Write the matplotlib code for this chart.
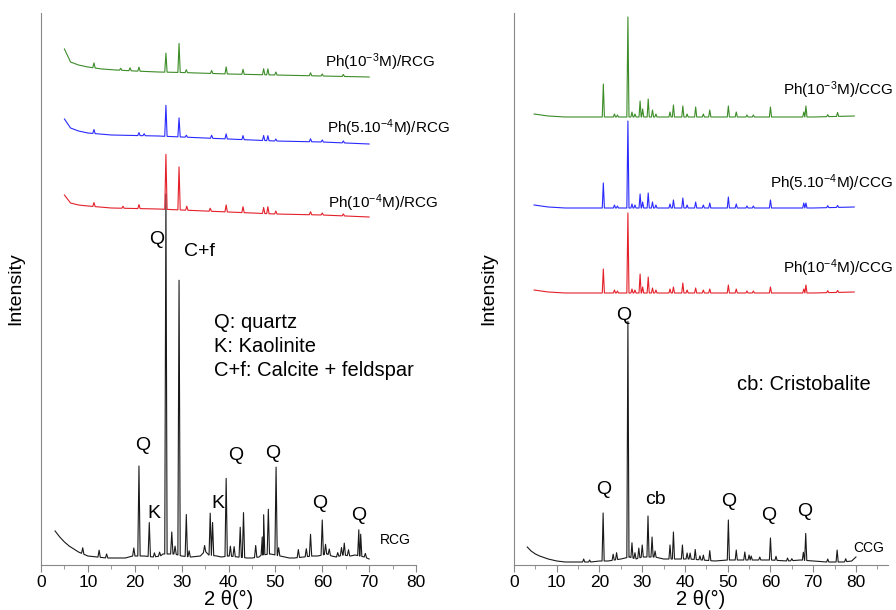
import numpy as np
import matplotlib
matplotlib.use("Agg")
import matplotlib.pyplot as plt
from matplotlib.ticker import MultipleLocator

plt.rcParams['font.family'] = ['Liberation Sans', 'DejaVu Sans']
plt.rcParams['mathtext.fontset'] = 'custom'
plt.rcParams['mathtext.rm'] = 'Liberation Sans'
plt.rcParams['mathtext.default'] = 'regular'

# ---------------- left panel (RCG) ----------------
# raw clay, black trace: background (2theta, intensity) and peaks (2theta, height)
rcg_bg_x = [3.0, 4, 5, 6, 7, 8, 9, 10, 12, 14, 16, 18, 19.5, 22, 24, 25.5, 26, 28.5, 30, 32, 34, 35, 35.8,
            37.5, 38.5, 40, 42, 44, 45, 46.5, 47, 49, 51, 53, 54, 56, 58, 59, 61, 62, 63, 64.5, 66, 67, 69, 70]
rcg_bg_y = [34, 28, 23, 19, 16, 13, 11, 9, 8, 7, 7, 7, 9, 9, 8, 9, 11, 11, 9, 8, 9, 14, 10,
            9, 8, 9, 8, 7, 7, 8, 10, 11, 9, 7, 7, 8, 9, 9, 11, 9, 8, 10, 9, 10, 8, 6]
rcg_pk_x = [8.9, 12.4, 14.0, 19.8, 20.9, 23.1, 24.2, 25.3, 26.65, 27.9, 28.6, 29.45, 31.0, 31.6, 34.9,
            36.1, 36.6, 39.5, 40.4, 41.2, 42.5, 43.2, 45.8, 47.2, 47.5, 48.5, 50.15, 50.7, 54.9, 56.6,
            57.5, 60.0, 60.7, 61.5, 63.3, 64.1, 64.7, 65.6, 67.8, 68.2, 69.2]
rcg_pk_h = [6, 7, 4, 8, 90, 34, 4, 4, 360, 22, 8, 275, 42, 6, 6,
            42, 33, 78, 10, 10, 30, 45, 12, 18, 40, 45, 88, 8, 8, 8,
            22, 35, 10, 6, 4, 8, 12, 6, 26, 22, 4]

# Ph(10-4M)/RCG, red
rcg4_bg_x = [5, 6.3, 8, 10, 15, 25, 35, 50, 60, 70]
rcg4_bg_y = [22, 14, 12, 11, 9, 8, 6, 3, 2, 0]
rcg4_pk_x = [11.3, 17.5, 20.9, 26.65, 29.45, 31.1, 36.1, 39.5, 43.1, 47.5, 48.4, 50.1, 57.5, 60.0, 64.5]
rcg4_pk_h = [4, 2, 4, 55, 43, 4, 3, 7, 6, 6, 7, 3, 3, 2, 2]

# Ph(5.10-4M)/RCG, blue
rcg5_bg_x = [5, 6.3, 8, 10, 15, 25, 35, 50, 60, 70]
rcg5_bg_y = [25, 16, 13, 11, 9, 8, 6, 3, 2, 0]
rcg5_pk_x = [11.3, 20.9, 22.0, 26.65, 29.45, 31.0, 36.4, 39.5, 43.1, 47.5, 48.4, 50.1, 57.5, 60.0, 64.5]
rcg5_pk_h = [4, 3, 2, 31, 19, 2, 3, 5, 4, 5, 5, 2, 3, 2, 2]

# Ph(10-3M)/RCG, green
rcg3_bg_x = [5, 6.3, 8, 10, 13, 16, 20, 25, 30, 40, 50, 60, 70]
rcg3_bg_y = [28, 15, 12, 10, 8, 7, 6, 5, 4.5, 3, 2, 1, 0]
rcg3_pk_x = [11.3, 17.0, 19.0, 20.9, 26.65, 29.45, 31.0, 36.4, 39.5, 43.1, 47.5, 48.4, 50.1, 57.5, 60.0, 64.5]
rcg3_pk_h = [5, 2, 3, 4, 19, 29, 3, 3, 7, 5, 6, 6, 3, 3, 2, 2]

# ---------------- right panel (CCG) ----------------
ccg_bg_x = [3.1, 4, 5, 6, 8, 10, 12, 15, 18, 20, 22, 25, 27, 28.5, 30, 33, 35, 38, 41, 44, 47, 50, 53,
            56, 60, 64, 67, 70, 73, 77, 79, 80]
ccg_bg_y = [18, 14, 11, 9, 6, 4, 3, 3, 3, 4, 4, 6, 8, 6, 8, 8, 6, 6, 6, 5, 4, 5, 5,
            5, 5, 4, 5, 4, 3, 3, 4, 8]
ccg_pk_x = [16.3, 17.7, 20.85, 23.2, 24.0, 26.65, 27.6, 28.3, 29.2, 30.0, 31.35, 32.3, 33.0, 36.5, 37.3,
            39.4, 40.5, 41.2, 42.4, 43.5, 44.3, 45.8, 50.15, 52.0, 54.0, 55.0, 55.5, 57.5, 60.0, 61.3,
            64.0, 65.0, 67.7, 68.25, 73.4, 75.6, 77.6]
ccg_pk_h = [3, 2, 48, 6, 7, 236, 15, 6, 10, 12, 41, 20, 6, 14, 27,
            14, 6, 6, 10, 4, 5, 10, 40, 10, 8, 5, 4, 3, 22, 4,
            3, 2, 8, 27, 3, 12, 3]

col_bg_x = [4.7, 8, 12, 20, 30, 50, 70, 79.6]
col_bg_y = [3, 1, 0, 0, 0, 0, 0, 1]
col_pk_x = [20.9, 23.5, 24.2, 26.65, 27.6, 28.3, 29.5, 30.1, 31.4, 32.4, 33.2, 36.5, 37.3, 39.5, 40.5,
            42.5, 44.3, 45.8, 50.15, 52.0, 54.5, 56.0, 60.0, 67.8, 68.3, 73.4, 75.7]
# heights for Ph(10-3M), Ph(5.10-4M), Ph(10-4M) on CCG
ccg3_pk_h = [33, 3, 2, 100, 5, 3, 16, 8, 18, 7, 3, 5, 12, 11, 3, 10, 3, 7, 11, 5, 2, 2, 10, 5, 11, 2, 4]
ccg5_pk_h = [25, 3, 2, 87, 4, 3, 14, 6, 15, 6, 3, 4, 8, 10, 3, 6, 3, 5, 11, 4, 2, 2, 8, 5, 5, 2, 2]
ccg4_pk_h = [24, 3, 2, 80, 4, 3, 19, 6, 16, 5, 3, 4, 6, 10, 3, 5, 3, 4, 8, 4, 2, 2, 6, 4, 8, 2, 2]

# stacking offsets of the traces
rcg_offsets = [0, 348, 421, 488]
ccg_offsets = [0, 272, 357, 448]


def build_trace(bg_x, bg_y, pk_x, pk_h, w=0.25):
    bg_x = np.asarray(bg_x, float)
    bg_y = np.asarray(bg_y, float)
    pk_x = np.asarray(pk_x, float)
    xs = [x for x in bg_x if np.all(np.abs(pk_x - x) > w)]
    ys = list(np.interp(xs, bg_x, bg_y))
    for p, h in zip(pk_x, pk_h):
        for dx, dh in ((-w, 0), (0, h), (w, 0)):
            xs.append(p + dx)
            ys.append(np.interp(p + dx, bg_x, bg_y) + dh)
    order = np.argsort(xs)
    return np.asarray(xs)[order], np.asarray(ys)[order]


fig = plt.figure(figsize=(8.96, 6.10), dpi=100)
ax1 = fig.add_axes([41 / 896, 45 / 610, 375 / 896, 552 / 610])
ax2 = fig.add_axes([514 / 896, 45 / 610, 374 / 896, 552 / 610])

blk, red, blu, grn = '#1a1a1a', '#e4202a', '#2a2aff', '#3c8c28'

traces_l = [(rcg_bg_x, rcg_bg_y, rcg_pk_x, rcg_pk_h, blk),
            (rcg4_bg_x, rcg4_bg_y, rcg4_pk_x, rcg4_pk_h, red),
            (rcg5_bg_x, rcg5_bg_y, rcg5_pk_x, rcg5_pk_h, blu),
            (rcg3_bg_x, rcg3_bg_y, rcg3_pk_x, rcg3_pk_h, grn)]
for (bx, by, px, ph, c), off in zip(traces_l, rcg_offsets):
    x, y = build_trace(bx, by, px, ph)
    ax1.plot(x, y + off, color=c, lw=0.8)

traces_r = [(ccg_bg_x, ccg_bg_y, ccg_pk_x, ccg_pk_h, blk),
            (col_bg_x, col_bg_y, col_pk_x, ccg4_pk_h, red),
            (col_bg_x, col_bg_y, col_pk_x, ccg5_pk_h, blu),
            (col_bg_x, col_bg_y, col_pk_x, ccg3_pk_h, grn)]
for (bx, by, px, ph, c), off in zip(traces_r, ccg_offsets):
    x, y = build_trace(bx, by, px, ph)
    ax2.plot(x, y + off, color=c, lw=0.8)

for ax, xmax in ((ax1, 80), (ax2, 87.5)):
    ax.set_xlim(0, xmax)
    ax.set_ylim(0, 552)
    ax.set_yticks([])
    ax.xaxis.set_major_locator(MultipleLocator(10))
    ax.xaxis.set_minor_locator(MultipleLocator(5))
    ax.tick_params(axis='x', which='major', direction='out', length=5, color='#888888', labelsize=12.5, pad=2)
    ax.tick_params(axis='x', which='minor', direction='out', length=3, color='#888888')
    for s in ('top', 'right'):
        ax.spines[s].set_visible(False)
    for s in ('left', 'bottom'):
        ax.spines[s].set_color('#888888')
    ax.set_xlabel('2 θ(°)', fontsize=14.5, labelpad=0)
    ax.set_ylabel('Intensity', fontsize=14, labelpad=12)

# left panel annotations
ax1.text(84.0, 503, 'Ph(10$^{-3}$M)/RCG', ha='right', va='center', fontsize=11, clip_on=False)
ax1.text(87.3, 437, 'Ph(5.10$^{-4}$M)/RCG', ha='right', va='center', fontsize=11, clip_on=False)
ax1.text(84.7, 362, 'Ph(10$^{-4}$M)/RCG', ha='right', va='center', fontsize=11, clip_on=False)
ax1.text(72.3, 25, 'RCG', ha='left', va='center', fontsize=10)
for lx, ly, s in [(21.8, 120, 'Q'), (24.1, 52, 'K'), (24.7, 325, 'Q'), (33.7, 313, 'C+f'),
                  (37.8, 62, 'K'), (41.6, 109, 'Q'), (49.5, 111, 'Q'), (59.5, 61, 'Q'), (67.8, 49, 'Q')]:
    ax1.text(lx, ly, s, ha='center', va='center', fontsize=14)
ax1.text(36.9, 242, 'Q: quartz', ha='left', va='center', fontsize=14.5)
ax1.text(36.9, 218, 'K: Kaolinite', ha='left', va='center', fontsize=14.5)
ax1.text(36.9, 195, 'C+f: Calcite + feldspar', ha='left', va='center', fontsize=14.5)

# right panel annotations
ax2.text(88.7, 475, 'Ph(10$^{-3}$M)/CCG', ha='right', va='center', fontsize=11, clip_on=False)
ax2.text(88.7, 382, 'Ph(5.10$^{-4}$M)/CCG', ha='right', va='center', fontsize=11, clip_on=False)
ax2.text(88.7, 297, 'Ph(10$^{-4}$M)/CCG', ha='right', va='center', fontsize=11, clip_on=False)
ax2.text(79.3, 17, 'CCG', ha='left', va='center', fontsize=10)
for lx, ly, s in [(25.7, 250, 'Q'), (21.0, 75, 'Q'), (33.0, 65, 'cb'), (50.3, 63, 'Q'),
                  (59.6, 50, 'Q'), (68.1, 53, 'Q')]:
    ax2.text(lx, ly, s, ha='center', va='center', fontsize=14)
ax2.text(52.2, 180, 'cb: Cristobalite', ha='left', va='center', fontsize=14.5)

fig.savefig('out.png', dpi=100)
